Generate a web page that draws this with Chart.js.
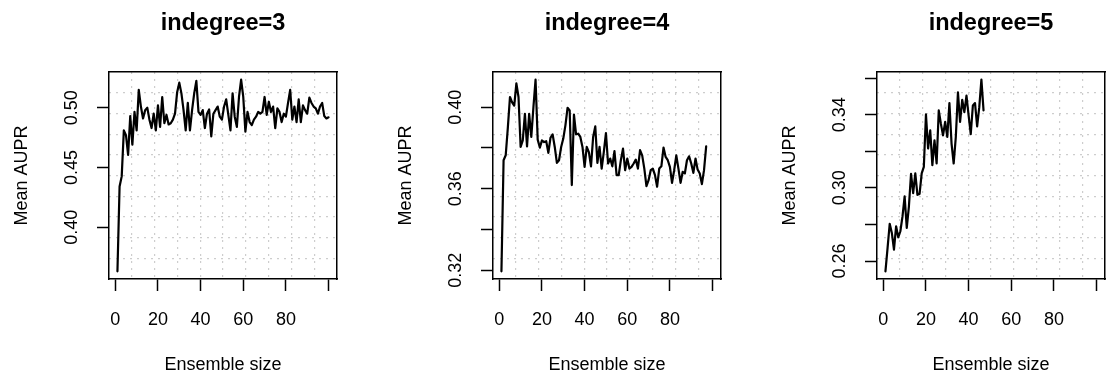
<!DOCTYPE html>
<html><head><meta charset="utf-8">
<script src="https://cdn.jsdelivr.net/npm/chart.js@4.4.1/dist/chart.umd.min.js"></script>
<style>
html,body{margin:0;padding:0;background:#fff;width:1108px;height:384px;overflow:hidden;position:relative}
.p{position:absolute;top:0;width:384px;height:384px}
canvas{display:block}
</style></head><body>
<div class="p" style="left:0"><canvas id="c1" width="384" height="384"></canvas></div>
<div class="p" style="left:384px"><canvas id="c2" width="384" height="384"></canvas></div>
<div class="p" style="left:768px"><canvas id="c3" width="384" height="384"></canvas></div>
<script>
// ---- data ----
const panelTitles = ['indegree=3', 'indegree=4', 'indegree=5'];
const xAxisTitle = 'Ensemble size';
const yAxisTitle = 'Mean AUPR';
const xLimits = [1, 100];

const aupr3 = [0.363,0.434,0.4425,0.481,0.477,0.4605,0.493,0.469,0.4965,0.481,
0.515,0.501,0.491,0.498,0.500,0.490,0.483,0.495,0.481,0.502,
0.484,0.509,0.487,0.494,0.486,0.487,0.490,0.495,0.513,0.521,
0.512,0.498,0.481,0.504,0.481,0.498,0.512,0.5225,0.4965,0.494,
0.498,0.483,0.495,0.4985,0.476,0.495,0.498,0.501,0.4925,0.490,
0.501,0.507,0.494,0.481,0.512,0.4925,0.484,0.509,0.5235,0.509,
0.480,0.4965,0.488,0.4855,0.490,0.4925,0.4965,0.495,0.4965,0.509,
0.494,0.505,0.4965,0.501,0.483,0.4995,0.4965,0.488,0.495,0.4925,
0.504,0.515,0.490,0.501,0.488,0.507,0.488,0.502,0.498,0.495,
0.5085,0.504,0.501,0.4995,0.495,0.501,0.504,0.493,0.491,0.492];

const aupr4 = [0.3195,0.374,0.3764,0.390,0.405,0.4024,0.4008,0.4117,0.405,0.3805,
0.3837,0.3967,0.3808,0.3967,0.3854,0.400,0.4135,0.3841,0.3802,0.3837,
0.3829,0.3833,0.3776,0.385,0.3867,0.3805,0.3727,0.374,0.3805,0.3846,
0.3911,0.3997,0.3984,0.3618,0.3964,0.3867,0.387,0.3854,0.3805,0.3707,
0.3805,0.378,0.371,0.3854,0.3906,0.3727,0.3805,0.3699,0.378,0.3873,
0.3724,0.3748,0.371,0.3785,0.3667,0.3667,0.374,0.3797,0.3691,0.3748,
0.3699,0.3707,0.3724,0.3743,0.3699,0.3789,0.3764,0.3699,0.3613,0.3642,
0.3691,0.3699,0.3667,0.361,0.3699,0.371,0.3802,0.3756,0.374,0.3707,
0.3629,0.3691,0.3764,0.3699,0.3629,0.3683,0.3675,0.374,0.3759,0.3724,
0.3678,0.3748,0.3694,0.3675,0.3623,0.3691,0.3808];

const aupr5 = [0.2544,0.2672,0.2804,0.2754,0.2663,0.279,0.273,0.2763,0.2844,0.2953,
0.2781,0.2898,0.3076,0.2971,0.3079,0.2962,0.2967,0.3079,0.3115,0.3401,
0.3215,0.3314,0.3124,0.326,0.3133,0.3423,0.335,0.3287,0.336,0.3278,
0.3463,0.3242,0.3133,0.3278,0.3522,0.336,0.3481,0.3414,0.3504,0.3396,
0.3293,0.345,0.3463,0.3336,0.3441,0.3591,0.3423];

const xTicks = [0, 20, 40, 60, 80, 100];
const xTickLabels = ['0', '20', '40', '60', '80', ''];

const yTicks3 = [0.40, 0.45, 0.50];
const yTickLabels3 = ['0.40', '0.45', '0.50'];
const yTicks4 = [0.32, 0.34, 0.36, 0.38, 0.40];
const yTickLabels4 = ['0.32', '', '0.36', '', '0.40'];
const yTicks5 = [0.26, 0.28, 0.30, 0.32, 0.34, 0.36];
const yTickLabels5 = ['0.26', '', '0.30', '', '0.34', ''];

// ---- rendering ----
Chart.defaults.font.family = "'Liberation Sans', Arial, Helvetica, sans-serif";
Chart.defaults.color = '#000';

const FONT = 18;
const TITLE_FONT = 23.5;
const BOX_W = 1.5;

function ext(lo, hi) { const e = (hi - lo) * 0.04; return [lo - e, hi + e]; }

function makePanel(id, title, values, yTicks, yLabels) {
  const yr = ext(Math.min(...values), Math.max(...values));
  const xr = ext(xLimits[0], xLimits[1]);
  const pts = values.map((v, i) => ({ x: i + 1, y: v }));
  const tickGrid = { display: true, drawOnChartArea: false, drawTicks: true, tickLength: 12,
                     tickColor: '#000', tickWidth: BOX_W, color: '#000' };
  const gridColor = (c) => (c.index === 0 || c.index === 10) ? 'rgba(0,0,0,0)' : '#cdcdcd';
  new Chart(document.getElementById(id), {
    type: 'line',
    data: { datasets: [{ data: pts, borderColor: '#000', borderWidth: 2.2, pointRadius: 0,
                         fill: false, tension: 0, borderJoinStyle: 'round', borderCapStyle: 'round' }] },
    options: {
      responsive: false, animation: false, devicePixelRatio: 1,
      layout: { padding: { left: 0, right: 47, top: 0, bottom: 0 } },
      plugins: {
        legend: { display: false }, tooltip: { enabled: false },
        title: { display: true, text: title, fullSize: false, color: '#000',
                 font: { size: TITLE_FONT, weight: 'bold', lineHeight: 1.2 },
                 padding: { top: 9, bottom: 34.8 } }
      },
      scales: {
        x: { type: 'linear', position: 'bottom', min: xr[0], max: xr[1],
             afterBuildTicks: s => { s.ticks = xTicks.map(v => ({ value: v })); },
             afterFit: s => { s.height = 105; },
             grid: tickGrid,
             border: { display: true, color: '#000', width: BOX_W, z: 1 },
             ticks: { autoSkip: false, minRotation: 0, maxRotation: 0, padding: 18,
                      font: { size: FONT }, color: '#000', callback: (v, i) => xTickLabels[i] },
             title: { display: true, text: xAxisTitle, color: '#000', font: { size: FONT },
                      padding: { top: 0, bottom: 8 } } },
        y: { type: 'linear', position: 'left', min: yr[0], max: yr[1],
             afterBuildTicks: s => { s.ticks = yTicks.map(v => ({ value: v })); },
             afterFit: s => { s.width = 109; },
             grid: tickGrid,
             border: { display: true, color: '#000', width: BOX_W, z: 1 },
             ticks: { autoSkip: false, minRotation: 90, maxRotation: 90, crossAlign: 'center', padding: 7,
                      font: { size: FONT }, color: '#000', callback: (v, i) => yLabels[i] },
             title: { display: true, text: yAxisTitle, color: '#000', font: { size: FONT },
                      padding: { top: 11.5, bottom: 0 } } },
        x2: { type: 'linear', position: 'top', min: 0, max: 1,
              ticks: { display: false }, grid: { display: false },
              border: { display: true, color: '#000', width: BOX_W, z: 1 },
              afterFit: s => { s.height = 0; } },
        y2: { type: 'linear', position: 'right', min: 0, max: 1,
              ticks: { display: false }, grid: { display: false },
              border: { display: true, color: '#000', width: BOX_W, z: 1 },
              afterFit: s => { s.width = 0; } },
        gx: { type: 'linear', position: 'top', min: 0, max: 10,
              ticks: { display: false, stepSize: 1 },
              grid: { display: true, drawTicks: false, drawOnChartArea: true, color: gridColor, lineWidth: 1.2 },
              border: { display: false, dash: [2, 5] },
              afterFit: s => { s.height = 0; } },
        gy: { type: 'linear', position: 'right', min: 0, max: 10,
              ticks: { display: false, stepSize: 1 },
              grid: { display: true, drawTicks: false, drawOnChartArea: true, color: gridColor, lineWidth: 1.2 },
              border: { display: false, dash: [2, 5] },
              afterFit: s => { s.width = 0; } }
      }
    }
  });
}

makePanel('c1', panelTitles[0], aupr3, yTicks3, yTickLabels3);
makePanel('c2', panelTitles[1], aupr4, yTicks4, yTickLabels4);
makePanel('c3', panelTitles[2], aupr5, yTicks5, yTickLabels5);
</script>
</body></html>
